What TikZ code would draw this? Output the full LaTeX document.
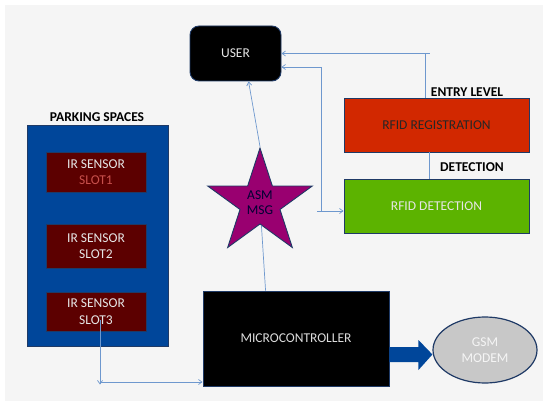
\documentclass[tikz,border=0pt]{standalone}
\usepackage{fontspec}
\setmainfont{Carlito}
\usetikzlibrary{shapes.geometric,arrows.meta,calc}
\definecolor{bggray}{HTML}{F5F5F5}
\definecolor{edgeblue}{HTML}{1F3A66}
\definecolor{linkblue}{HTML}{6E98CE}
\definecolor{regred}{HTML}{D22800}
\definecolor{detgreen}{HTML}{5CB300}
\definecolor{starpurple}{HTML}{990070}
\definecolor{parkblue}{HTML}{00469A}
\definecolor{irred}{HTML}{5C0000}
\definecolor{slotred}{HTML}{C8504C}
\definecolor{lighttext}{HTML}{E6E6E6}
\definecolor{modemgray}{HTML}{C8C8C8}
\definecolor{blockblue}{HTML}{00469A}
\tikzset{
  box/.style={draw=edgeblue, line width=0.9pt, inner sep=0pt, align=center,
              font=\fontsize{13.5}{16.5}\selectfont},
  link/.style={draw=linkblue, line width=0.7pt},
  arr/.style={-{Straight Barb[length=3.5pt,width=5pt]}},
  biarr/.style={{Straight Barb[length=3.5pt,width=5pt]}-{Straight Barb[length=3.5pt,width=5pt]}},
  lbl/.style={font=\fontsize{13.5}{15}\selectfont\bfseries, text=black, inner sep=0pt}
}
\begin{document}
\begin{tikzpicture}[x=1pt,y=-1pt]
\useasboundingbox (0,0) rectangle (543,401);
\fill[white] (0,0) rectangle (543,401);
\fill[bggray] (5,5) rectangle (543,401);

% USER
\node[box, fill=black, text=lighttext, rounded corners=9pt,
      minimum width=91, minimum height=55] (user) at (235.5,53.5) {USER};

% RFID boxes
\node[box, fill=regred, text=black!85, minimum width=185, minimum height=54]
  (reg) at (436.5,125) {RFID REGISTRATION};
\node[box, fill=detgreen, text=lighttext, minimum width=185, minimum height=54]
  (det) at (436.5,206) {RFID DETECTION};
\node[lbl] (entry) at (467,92) {ENTRY LEVEL};
\node[lbl] (detlbl) at (472,167) {DETECTION};

% Parking spaces
\node[box, fill=parkblue, minimum width=141, minimum height=221] (park) at (97.5,235.5) {};
\node[lbl] (parklbl) at (97,117) {PARKING SPACES};
\node[box, fill=irred, text=lighttext, minimum width=100, minimum height=40]
  (s1) at (96,172) {IR SENSOR\\\textcolor{slotred}{SLOT1}};
\node[box, fill=irred, text=lighttext, minimum width=100, minimum height=44]
  (s2) at (96,246) {IR SENSOR\\SLOT2};
\node[box, fill=irred, text=lighttext, minimum width=100, minimum height=39]
  (s3) at (96,311.5) {IR SENSOR\\SLOT3};

% Microcontroller
\node[box, fill=black, text=lighttext!90!gray, minimum width=186, minimum height=95]
  (micro) at (296,338.5) {MICROCONTROLLER};

% GSM modem
\node[box, ellipse, fill=modemgray, text=white!92!gray, line width=1.2pt,
      minimum width=104, minimum height=66] (gsm) at (485,350) {GSM\\MODEM};

% block arrow micro -> gsm
\fill[blockblue] ($(micro.east)+(0,8.5)$) -- ++(29,0) -- ++(0,-7) -- ($(gsm.west)+(0,4.5)$)
  -- ($(micro.east)+(29,31.5)$) -- ++(0,-8) -- ($(micro.east)+(0,23.5)$) -- cycle;

% connectors (behind star)
\coordinate (mtop) at ($(micro.north west)+(63,0)$);
\coordinate (ubot) at ($(user.south west)+(59,0)$);

% star
\node[star, star points=5, star point ratio=2.618, minimum size=110, inner sep=0pt,
      fill=starpurple, draw=edgeblue, line width=0.9pt, align=center,
      font=\fontsize{13.5}{15}\selectfont, text=black!80!blue]
  (star) at (260,203) {ASM\\MSG};

\draw[link] (mtop) -- (star);
\draw[link, arr] (star.outer point 1) -- (ubot);

% registration -> user
\coordinate (rtop) at ($(reg.north west)+(82,0)$);
\draw[link, arr] (rtop) |- (user.east);
\draw[link] (rtop |- user.east) -- ++(4,0);

% user <-> detection
\coordinate (uB) at ($(user.east)+(0,13.5)$);
\coordinate (dA) at ($(det.west)+(0,5)$);
\coordinate (bend) at ($(dA)+(-22,0)$);
\draw[link, biarr] (uB) -| (bend) -- (dA);
\draw[link] (bend) -- ++(-5,0);

% registration -- detection
\draw[link] (reg.south -| rtop) ++(4,0) -- ($(det.north -| rtop)+(4,0)$);

% parking -> microcontroller
\coordinate (pstart) at ($(s3.center)+(4,8.5)$);
\coordinate (pcorner) at ($(s3.center)+(4,70.5)$);
\draw[link, arr] (pstart) -- ($(pcorner)+(0,2.5)$);
\draw[link, arr] (pcorner) -- (pcorner -| micro.west);
\end{tikzpicture}
\end{document}
